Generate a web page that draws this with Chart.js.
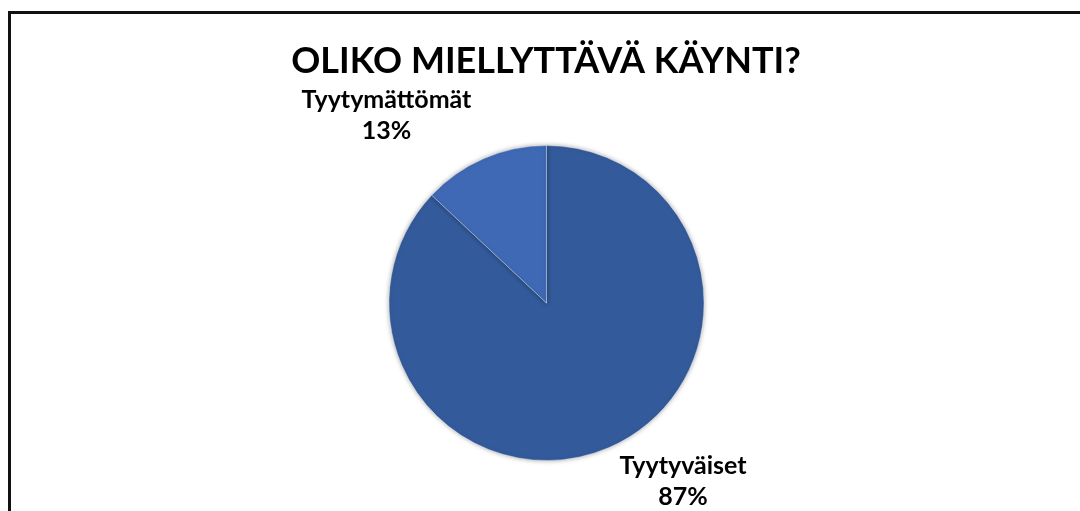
<!DOCTYPE html>
<html>
<head>
<meta charset="utf-8">
<script src="https://cdn.jsdelivr.net/npm/chart.js@4/dist/chart.umd.min.js"></script>
<style>
  html, body { margin: 0; padding: 0; background: #fff; }
  #wrap { position: relative; width: 1080px; height: 511px; overflow: hidden; }
  #frameTop { position: absolute; left: 8px; top: 11px; width: 1072px; height: 3px; background: #111; }
  #frameLeft { position: absolute; left: 8px; top: 11px; width: 3px; height: 500px; background: #111; }
  canvas { position: absolute; left: 0; top: 0; }
</style>
</head>
<body>
<div id="wrap">
  <canvas id="chart" width="1080" height="511"></canvas>
  <div id="frameTop"></div>
  <div id="frameLeft"></div>
</div>
<script>
const chartTitle = 'OLIKO MIELLYTTÄVÄ KÄYNTI?';
const categories = ['Tyytyväiset', 'Tyytymättömät'];
const shares = [87, 13];
const sliceColors = ['#335a9a', '#3f69b4'];

// label anchor offsets from the pie centre, one per slice
const labelOffsets = [[136.5, 163], [-160, -203]];

const fontFamily = 'Lato, "Open Sans", "Liberation Sans", sans-serif';

const labelPlugin = {
  id: 'sliceLabels',
  afterDatasetsDraw(chart) {
    const ctx = chart.ctx;
    const meta = chart.getDatasetMeta(0);
    ctx.save();
    ctx.fillStyle = '#000';
    ctx.textAlign = 'center';
    ctx.textBaseline = 'middle';
    ctx.font = 'bold 25px ' + fontFamily;
    meta.data.forEach((arc, i) => {
      const x = arc.x + labelOffsets[i][0];
      const y = arc.y + labelOffsets[i][1];
      ctx.fillText(categories[i], x, y);
      ctx.fillText(shares[i] + '%', x, y + 31);
    });
    // title
    ctx.font = 'bold 36px ' + fontFamily;
    ctx.textBaseline = 'alphabetic';
    ctx.fillText(chartTitle, 546, 73);
    ctx.restore();
  }
};

const shadowPlugin = {
  id: 'pieShadow',
  beforeDatasetDraw(chart) {
    const ctx = chart.ctx;
    ctx.save();
    ctx.shadowColor = 'rgba(0,0,0,0.35)';
    ctx.shadowBlur = 5;
    ctx.shadowOffsetX = 0;
    ctx.shadowOffsetY = 0;
  },
  afterDatasetDraw(chart) {
    chart.ctx.restore();
  }
};

new Chart(document.getElementById('chart'), {
  type: 'pie',
  data: {
    labels: categories,
    datasets: [{
      data: shares,
      backgroundColor: sliceColors,
      borderColor: 'rgba(255,255,255,0.35)',
      borderWidth: 1
    }]
  },
  options: {
    responsive: false,
    animation: false,
    layout: { padding: { top: 145, bottom: 50, left: 13, right: 0 } },
    plugins: {
      legend: { display: false },
      title: { display: false },
      tooltip: { enabled: false }
    }
  },
  plugins: [shadowPlugin, labelPlugin]
});
</script>
</body>
</html>
